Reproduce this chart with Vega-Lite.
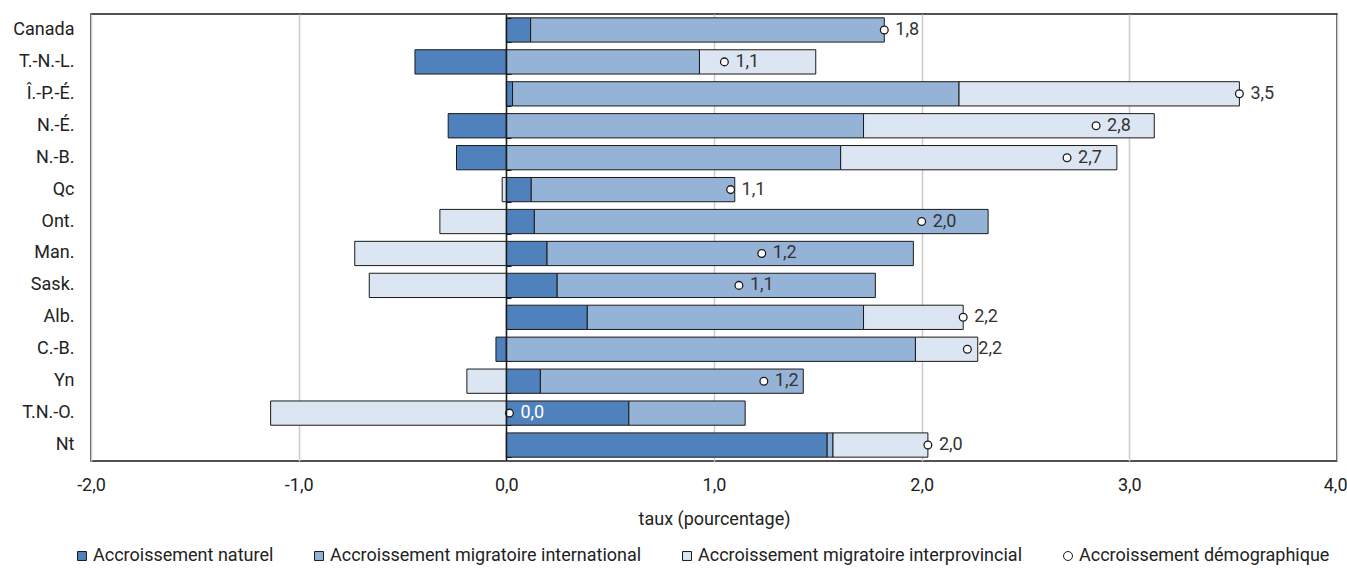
{
  "$schema": "https://vega.github.io/schema/vega-lite/v6.json",
  "width": 1246,
  "height": 447,
  "autosize": {"type": "none"},
  "padding": {"left": 91, "top": 14, "right": 10, "bottom": 107},
  "background": "white",
  "config": {
    "locale": {"number": {"decimal": ",", "thousands": " ", "grouping": [3], "currency": ["", " $"], "minus": "-"}},
    "font": "Roboto",
    "view": {"stroke": "#1a1a1a", "strokeWidth": 1.5},
    "axis": {"labelFont": "Roboto", "labelFontSize": 18, "labelColor": "#222", "titleFont": "Roboto", "titleFontSize": 18, "titleFontWeight": "normal", "titleColor": "#222"},
    "legend": {
      "orient": "none", "legendX": -18, "legendY": 533, "direction": "horizontal",
      "labelFont": "Roboto", "labelFontSize": 18, "labelColor": "#222", "labelOffset": 2, "labelLimit": 0,
      "columnPadding": 36, "symbolSize": 80, "symbolStrokeColor": "#1a1a1a", "symbolStrokeWidth": 1, "symbolType": "square"
    }
  },
  "datasets": {
    "composantes": [
      {"region": "Canada", "composante": "Accroissement naturel", "rang": 1, "valeur": 0.117},
      {"region": "Canada", "composante": "Accroissement migratoire international", "rang": 2, "valeur": 1.703},
      {"region": "T.-N.-L.", "composante": "Accroissement naturel", "rang": 1, "valeur": -0.44},
      {"region": "T.-N.-L.", "composante": "Accroissement migratoire international", "rang": 2, "valeur": 0.93},
      {"region": "T.-N.-L.", "composante": "Accroissement migratoire interprovincial", "rang": 3, "valeur": 0.56},
      {"region": "Î.-P.-É.", "composante": "Accroissement naturel", "rang": 1, "valeur": 0.03},
      {"region": "Î.-P.-É.", "composante": "Accroissement migratoire international", "rang": 2, "valeur": 2.15},
      {"region": "Î.-P.-É.", "composante": "Accroissement migratoire interprovincial", "rang": 3, "valeur": 1.35},
      {"region": "N.-É.", "composante": "Accroissement naturel", "rang": 1, "valeur": -0.28},
      {"region": "N.-É.", "composante": "Accroissement migratoire international", "rang": 2, "valeur": 1.72},
      {"region": "N.-É.", "composante": "Accroissement migratoire interprovincial", "rang": 3, "valeur": 1.40},
      {"region": "N.-B.", "composante": "Accroissement naturel", "rang": 1, "valeur": -0.24},
      {"region": "N.-B.", "composante": "Accroissement migratoire international", "rang": 2, "valeur": 1.61},
      {"region": "N.-B.", "composante": "Accroissement migratoire interprovincial", "rang": 3, "valeur": 1.33},
      {"region": "Qc", "composante": "Accroissement naturel", "rang": 1, "valeur": 0.12},
      {"region": "Qc", "composante": "Accroissement migratoire international", "rang": 2, "valeur": 0.98},
      {"region": "Qc", "composante": "Accroissement migratoire interprovincial", "rang": 3, "valeur": -0.02},
      {"region": "Ont.", "composante": "Accroissement naturel", "rang": 1, "valeur": 0.135},
      {"region": "Ont.", "composante": "Accroissement migratoire international", "rang": 2, "valeur": 2.185},
      {"region": "Ont.", "composante": "Accroissement migratoire interprovincial", "rang": 3, "valeur": -0.32},
      {"region": "Man.", "composante": "Accroissement naturel", "rang": 1, "valeur": 0.196},
      {"region": "Man.", "composante": "Accroissement migratoire international", "rang": 2, "valeur": 1.764},
      {"region": "Man.", "composante": "Accroissement migratoire interprovincial", "rang": 3, "valeur": -0.73},
      {"region": "Sask.", "composante": "Accroissement naturel", "rang": 1, "valeur": 0.245},
      {"region": "Sask.", "composante": "Accroissement migratoire international", "rang": 2, "valeur": 1.532},
      {"region": "Sask.", "composante": "Accroissement migratoire interprovincial", "rang": 3, "valeur": -0.66},
      {"region": "Alb.", "composante": "Accroissement naturel", "rang": 1, "valeur": 0.39},
      {"region": "Alb.", "composante": "Accroissement migratoire international", "rang": 2, "valeur": 1.33},
      {"region": "Alb.", "composante": "Accroissement migratoire interprovincial", "rang": 3, "valeur": 0.48},
      {"region": "C.-B.", "composante": "Accroissement naturel", "rang": 1, "valeur": -0.05},
      {"region": "C.-B.", "composante": "Accroissement migratoire international", "rang": 2, "valeur": 1.97},
      {"region": "C.-B.", "composante": "Accroissement migratoire interprovincial", "rang": 3, "valeur": 0.30},
      {"region": "Yn", "composante": "Accroissement naturel", "rang": 1, "valeur": 0.164},
      {"region": "Yn", "composante": "Accroissement migratoire international", "rang": 2, "valeur": 1.266},
      {"region": "Yn", "composante": "Accroissement migratoire interprovincial", "rang": 3, "valeur": -0.19},
      {"region": "T.N.-O.", "composante": "Accroissement naturel", "rang": 1, "valeur": 0.59},
      {"region": "T.N.-O.", "composante": "Accroissement migratoire international", "rang": 2, "valeur": 0.56},
      {"region": "T.N.-O.", "composante": "Accroissement migratoire interprovincial", "rang": 3, "valeur": -1.135},
      {"region": "Nt", "composante": "Accroissement naturel", "rang": 1, "valeur": 1.545},
      {"region": "Nt", "composante": "Accroissement migratoire international", "rang": 2, "valeur": 0.028},
      {"region": "Nt", "composante": "Accroissement migratoire interprovincial", "rang": 3, "valeur": 0.457}
    ],
    "totaux": [
      {"region": "Canada", "total": 1.82},
      {"region": "T.-N.-L.", "total": 1.05},
      {"region": "Î.-P.-É.", "total": 3.53},
      {"region": "N.-É.", "total": 2.84},
      {"region": "N.-B.", "total": 2.70},
      {"region": "Qc", "total": 1.08},
      {"region": "Ont.", "total": 2.00},
      {"region": "Man.", "total": 1.23},
      {"region": "Sask.", "total": 1.12},
      {"region": "Alb.", "total": 2.20},
      {"region": "C.-B.", "total": 2.22},
      {"region": "Yn", "total": 1.24},
      {"region": "T.N.-O.", "total": 0.015},
      {"region": "Nt", "total": 2.03}
    ]
  },
  "layer": [
    {
      "data": {"name": "composantes"},
      "mark": {"type": "bar", "stroke": "#1a1a1a", "strokeWidth": 1},
      "encoding": {
        "y": {
          "field": "region", "type": "nominal",
          "sort": ["Canada", "T.-N.-L.", "Î.-P.-É.", "N.-É.", "N.-B.", "Qc", "Ont.", "Man.", "Sask.", "Alb.", "C.-B.", "Yn", "T.N.-O.", "Nt"],
          "scale": {"paddingInner": 0.24, "paddingOuter": 0.12},
          "axis": {"title": null, "ticks": false, "domain": false, "grid": false, "labelPadding": 17}
        },
        "x": {
          "field": "valeur", "type": "quantitative", "stack": "zero",
          "scale": {"domain": [-2, 4], "nice": false, "zero": false},
          "axis": {
            "values": [-2, -1, 0, 1, 2, 3, 4], "format": ".1f", "grid": true, "gridColor": "#cccccc", "gridWidth": 1.5,
            "domain": false, "ticks": false, "tickSize": 0, "labelPadding": 15, "labelFlush": false,
            "labelAlign": {"condition": {"test": "datum.value === 4", "value": "right"}, "value": "center"},
            "labelOffset": {"condition": {"test": "datum.value === 4", "value": 10}, "value": 0},
            "title": "taux (pourcentage)", "titlePadding": 16
          }
        },
        "order": {"field": "rang", "type": "quantitative"},
        "color": {
          "field": "composante", "type": "nominal",
          "sort": ["Accroissement naturel", "Accroissement migratoire international", "Accroissement migratoire interprovincial", "Accroissement démographique"],
          "scale": {
            "domain": ["Accroissement naturel", "Accroissement migratoire international", "Accroissement migratoire interprovincial", "Accroissement démographique"],
            "range": ["#4f81bd", "#95b3d7", "#dce6f2", "#ffffff"]
          },
          "legend": {
            "title": null,
            "encode": {"symbols": {"update": {"shape": {"signal": "datum.value === 'Accroissement démographique' ? 'circle' : 'square'"}}}}
          }
        }
      }
    },
    {
      "data": {"name": "totaux"},
      "mark": {"type": "circle", "size": 60, "stroke": "#1a1a1a", "strokeWidth": 1.3, "opacity": 1},
      "encoding": {
        "y": {
          "field": "region", "type": "nominal",
          "sort": ["Canada", "T.-N.-L.", "Î.-P.-É.", "N.-É.", "N.-B.", "Qc", "Ont.", "Man.", "Sask.", "Alb.", "C.-B.", "Yn", "T.N.-O.", "Nt"],
          "axis": {"orient": "left", "offset": -415, "labels": false, "title": null, "grid": false, "domain": true, "domainColor": "#1a1a1a", "domainWidth": 1.5, "ticks": true, "tickColor": "#1a1a1a", "tickSize": -5, "tickWidth": 1, "tickBand": "extent", "zindex": 1}
        },
        "x": {"field": "total", "type": "quantitative"},
        "color": {"datum": "Accroissement démographique"}
      }
    },
    {
      "data": {"name": "totaux"},
      "mark": {"type": "text", "align": "left", "baseline": "middle", "dx": 11, "fontSize": 18, "font": "Roboto"},
      "encoding": {
        "y": {
          "field": "region", "type": "nominal",
          "sort": ["Canada", "T.-N.-L.", "Î.-P.-É.", "N.-É.", "N.-B.", "Qc", "Ont.", "Man.", "Sask.", "Alb.", "C.-B.", "Yn", "T.N.-O.", "Nt"],
          "axis": null
        },
        "x": {"field": "total", "type": "quantitative"},
        "text": {"field": "total", "type": "quantitative", "format": ".1f"},
        "color": {"condition": {"test": "datum.region === 'T.N.-O.'", "value": "white"}, "value": "#333333"}
      }
    }
  ],
  "resolve": {"axis": {"y": "independent"}}
}
